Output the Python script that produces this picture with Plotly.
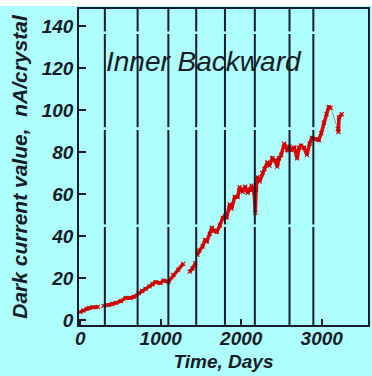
import plotly.graph_objects as go

# ---- data ----
seg1_days = [0, 40, 80, 110, 160, 220]
seg1_vals = [3.8, 4.5, 5.3, 5.7, 6.0, 6.2]

seg2_days = [290, 357, 400, 443, 504, 566, 627, 664, 726, 770, 812, 860, 898, 935,
             996, 1033, 1095, 1156, 1218, 1279]
seg2_vals = [6.7, 7.1, 7.6, 8.1, 9.0, 10.5, 10.5, 11.0, 12.8, 13.8, 14.8, 16.0, 17.0,
             18.0, 17.6, 18.7, 18.2, 21.4, 24.0, 26.7]

seg3_days = [1360, 1395, 1430]
seg3_vals = [23.0, 24.5, 27.0]

seg4_days = [1455, 1480, 1520, 1550, 1574, 1610, 1636, 1660, 1697, 1734, 1771, 1800,
             1820, 1857, 1882, 1919, 1956, 1980, 2000, 2017, 2050, 2079, 2110, 2128,
             2160, 2175, 2185, 2202, 2230, 2263, 2290, 2325, 2350, 2386, 2420, 2448,
             2470, 2497, 2534, 2571, 2600, 2620, 2660, 2694, 2720, 2743, 2780, 2817,
             2850, 2878, 2920, 2964, 2995, 3026, 3060, 3087, 3112]
seg4_vals = [31.0, 33.0, 35.0, 38.0, 37.5, 41.0, 44.0, 42.5, 42.0, 45.0, 48.6, 49.5,
             49.0, 55.0, 53.0, 58.6, 58.6, 63.3, 62.0, 61.0, 63.5, 60.5, 62.0, 64.0,
             61.0, 51.0, 62.0, 68.0, 66.0, 70.0, 72.0, 75.0, 73.5, 77.0, 76.0, 73.0,
             77.0, 78.6, 84.0, 81.0, 82.5, 81.0, 82.0, 77.0, 82.0, 83.0, 82.0, 78.6,
             84.0, 86.7, 86.0, 85.7, 89.0, 94.0, 98.0, 101.4, 101.0]

seg5_days = [3200, 3208, 3215, 3250]
seg5_vals = [91.0, 89.5, 96.5, 98.0]

event_days = [306, 713, 1095, 1441, 1798, 2169, 2600, 2896]

x_ticks = [0, 1000, 2000, 3000]
y_ticks = [0, 20, 40, 60, 80, 100, 120, 140]

x_range = [-15, 3575]
y_range = [-2.4, 148.1]
line_gaps = [(44.3, 45.5), (90.5, 91.8), (136.2, 137.4)]

BG = "#aefefe"
INK = "#161c28"
RED = "#e40000"

fig = go.Figure()

# thin gray connector across the last gap
fig.add_trace(go.Scatter(x=[seg4_days[-1], seg5_days[0]], y=[seg4_vals[-1], seg5_vals[0]],
                         mode="lines", line=dict(color="#8a9a9a", width=1),
                         showlegend=False, hoverinfo="skip"))

for dd, vv in [(seg1_days, seg1_vals), (seg2_days, seg2_vals), (seg3_days, seg3_vals),
               (seg4_days, seg4_vals), (seg5_days, seg5_vals)]:
    fig.add_trace(go.Scatter(x=dd, y=vv, mode="lines+markers",
                             line=dict(color=RED, width=3.5),
                             marker=dict(color="#c00000", size=4, symbol="x-thin",
                                         line=dict(color="#c00000", width=1.2)),
                             showlegend=False))

# vertical event lines, drawn as segments with small gaps
bounds = [y_range[0]]
for g0, g1 in line_gaps:
    bounds += [g0, g1]
bounds.append(y_range[1])
for d in event_days:
    for i in range(0, len(bounds), 2):
        fig.add_shape(type="line", xref="x", yref="y", x0=d, x1=d,
                      y0=bounds[i], y1=bounds[i + 1],
                      line=dict(color=INK, width=2), layer="above")

# white strip at the top of the picture
fig.add_shape(type="rect", xref="paper", yref="paper", x0=-0.3, x1=1.1,
              y0=1.0095, y1=1.05, fillcolor="white", line=dict(width=0), layer="below")

fig.add_annotation(text="Inner Backward", xref="paper", yref="paper",
                   x=0.433, y=0.835, xanchor="center", yanchor="middle", showarrow=False,
                   font=dict(family="Liberation Sans", size=28, color=INK, style="italic"))

tickfont = dict(family="Liberation Sans", size=19, color=INK, weight="bold", style="italic")
xtitlefont = dict(family="Liberation Sans", size=19, color=INK, weight="bold", style="italic")
ytitlefont = dict(family="Liberation Sans", size=21, color=INK, weight="bold", style="italic")

fig.update_xaxes(range=x_range, tickvals=x_ticks, ticktext=[str(t) for t in x_ticks],
                 ticks="inside", ticklen=6, tickwidth=1.5, tickcolor=INK,
                 showline=True, linecolor=INK, linewidth=1.5, mirror=True,
                 showgrid=False, zeroline=False, tickfont=tickfont, ticklabelstandoff=-5,
                 title=dict(text="Time, Days", font=xtitlefont, standoff=7))
fig.update_yaxes(range=y_range, tickvals=y_ticks, ticktext=[str(t) for t in y_ticks],
                 ticks="inside", ticklen=7, tickwidth=1.5, tickcolor=INK,
                 showline=True, linecolor=INK, linewidth=1.5, mirror=True,
                 showgrid=False, zeroline=False, tickfont=tickfont,
                 title=dict(text="Dark current value,&nbsp; nA/crystal", font=ytitlefont, standoff=8))

fig.update_layout(width=372, height=376, margin=dict(l=79, r=2, t=9, b=51),
                  paper_bgcolor=BG, plot_bgcolor=BG)

fig.write_html("out.html")
